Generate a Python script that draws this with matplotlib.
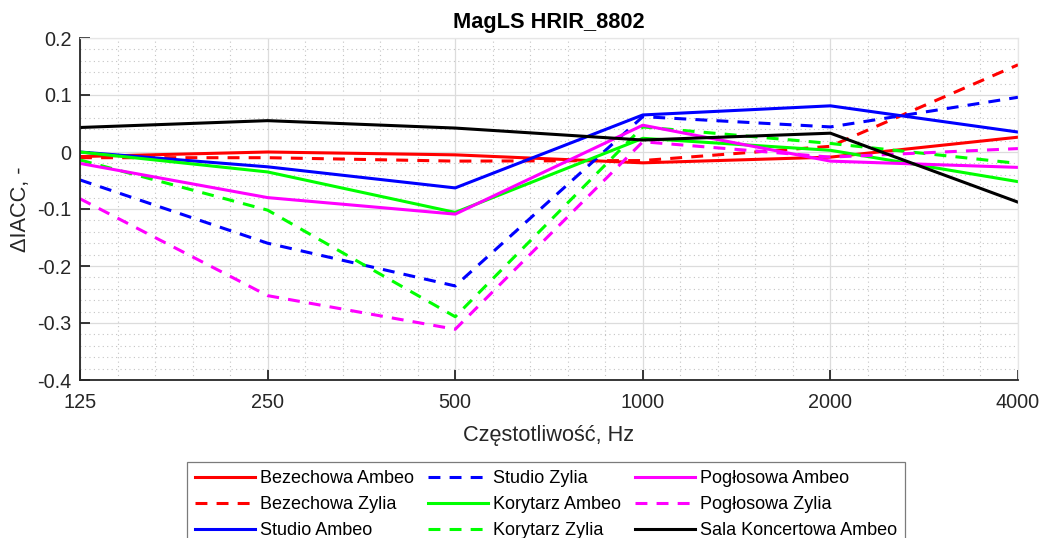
import numpy as np
import matplotlib
matplotlib.use("Agg")
import matplotlib.pyplot as plt
from matplotlib.ticker import FixedLocator, NullFormatter

plt.rcParams['font.family'] = ['Liberation Sans', 'DejaVu Sans']

freqs = [125, 250, 500, 1000, 2000, 4000]
freq_labels = ['125', '250', '500', '1000', '2000', '4000']

bezechowa_ambeo = [-0.008, 0.000, -0.005, -0.019, -0.009, 0.026]
bezechowa_zylia = [-0.010, -0.010, -0.016, -0.015, 0.010, 0.153]
studio_ambeo = [0.000, -0.026, -0.063, 0.065, 0.081, 0.035]
studio_zylia = [-0.049, -0.160, -0.235, 0.062, 0.044, 0.096]
korytarz_ambeo = [0.000, -0.035, -0.106, 0.024, 0.003, -0.052]
korytarz_zylia = [-0.014, -0.102, -0.289, 0.044, 0.015, -0.020]
poglosowa_ambeo = [-0.020, -0.080, -0.109, 0.047, -0.016, -0.027]
poglosowa_zylia = [-0.082, -0.252, -0.311, 0.018, -0.009, 0.006]
sala_ambeo = [0.043, 0.055, 0.042, 0.021, 0.033, -0.088]

series = [
    ('Bezechowa Ambeo', bezechowa_ambeo, '#ff0000', 'solid'),
    ('Bezechowa Zylia', bezechowa_zylia, '#ff0000', 'dashed'),
    ('Studio Ambeo', studio_ambeo, '#0000ff', 'solid'),
    ('Studio Zylia', studio_zylia, '#0000ff', 'dashed'),
    ('Korytarz Ambeo', korytarz_ambeo, '#00ff00', 'solid'),
    ('Korytarz Zylia', korytarz_zylia, '#00ff00', 'dashed'),
    ('Pogłosowa Ambeo', poglosowa_ambeo, '#ff00ff', 'solid'),
    ('Pogłosowa Zylia', poglosowa_zylia, '#ff00ff', 'dashed'),
    ('Sala Koncertowa Ambeo', sala_ambeo, '#000000', 'solid'),
]

fig = plt.figure(figsize=(10.43, 5.38), dpi=100)
ax = fig.add_axes([80/1043, 1-380/538, 938/1043, 342/538])

lw = 2.2
for name, vals, col, ls in series:
    style = '-' if ls == 'solid' else (0, (3.9, 3.0))
    ax.plot(freqs, vals, color=col, linestyle=style, linewidth=lw, label=name)

ax.set_xscale('log', base=2)
ax.set_xlim(125, 4000)
ax.set_ylim(-0.4, 0.2)
ax.xaxis.set_major_locator(FixedLocator(freqs))
ax.set_xticklabels(freq_labels)
minor_x = [125 * 2 ** (k / 5) for k in range(26) if k % 5 != 0]
ax.xaxis.set_minor_locator(FixedLocator(minor_x))
ax.xaxis.set_minor_formatter(NullFormatter())
ax.set_yticks(np.round(np.arange(-0.4, 0.21, 0.1), 2))
ax.set_yticklabels(['-0.4', '-0.3', '-0.2', '-0.1', '0', '0.1', '0.2'])
ax.yaxis.set_minor_locator(FixedLocator(np.round(np.arange(-0.4, 0.2001, 0.02), 2)))

ax.grid(True, which='major', color='#dcdcdc', linewidth=0.9, linestyle='-')
ax.grid(True, which='minor', color='#c4c4c4', linewidth=0.8, linestyle=(0, (1, 3)))
ax.set_axisbelow(True)

for s in ['top', 'right']:
    ax.spines[s].set_color('#e6e6e6')
    ax.spines[s].set_linewidth(0.9)
for s in ['left', 'bottom']:
    ax.spines[s].set_color('#262626')
    ax.spines[s].set_linewidth(1.3)

ax.tick_params(axis='both', which='major', direction='in', length=7, width=1.3,
               color='#262626', labelcolor='#262626', labelsize=14.3)
ax.tick_params(axis='x', which='major', pad=9)
ax.tick_params(axis='y', which='major', pad=6)
ax.tick_params(axis='both', which='minor', length=0)

ax.set_title('MagLS HRIR_8802', fontsize=15.7, fontweight='bold', pad=7)
ax.set_xlabel('Częstotliwość, Hz', fontsize=15.7, color='#262626')
ax.set_ylabel('ΔIACC, -', fontsize=15.7, color='#262626')
ax.xaxis.set_label_coords(0.5, (380 - 435) / 342)
ax.xaxis.label.set_va('center')
ax.yaxis.set_label_coords((21 - 80) / 938, 0.5)
ax.yaxis.label.set_va('center')

leg = fig.legend(loc='upper left', bbox_to_anchor=(187/1043, 1 - 462/538),
                 ncol=3, fontsize=13.0, frameon=True, fancybox=False,
                 handlelength=3.3, handletextpad=0.28, columnspacing=0.8,
                 labelspacing=0.5, borderpad=0.45, borderaxespad=0)
leg.get_frame().set_edgecolor('#5a5a5a')
leg.get_frame().set_linewidth(0.9)
for t in leg.get_texts():
    t.set_color('#000000')

fig.savefig('out.png', dpi=100)
